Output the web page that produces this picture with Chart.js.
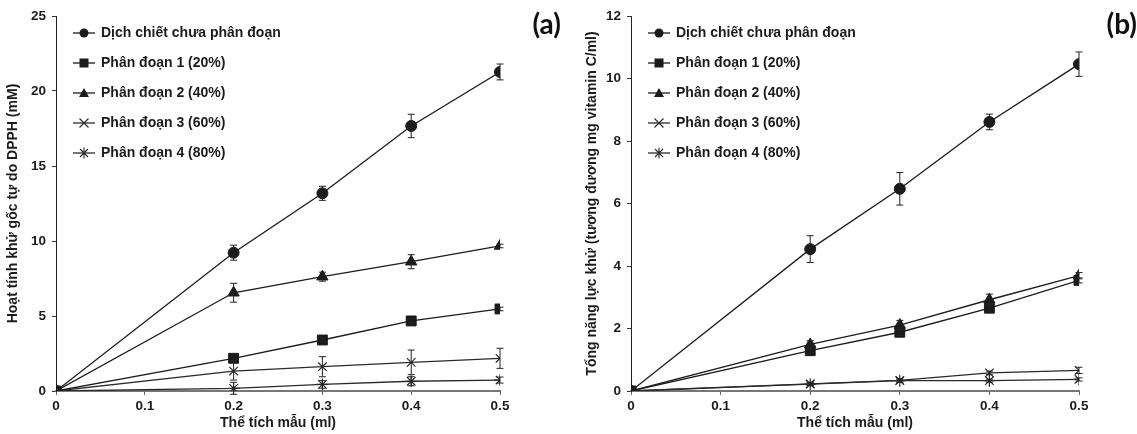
<!DOCTYPE html>
<html>
<head>
<meta charset="utf-8">
<script src="https://cdn.jsdelivr.net/npm/chart.js@4.4.1/dist/chart.umd.min.js"></script>
<style>
  html, body { margin: 0; padding: 0; background: #fff; }
  #wrapA { position: absolute; left: 0; top: 0; width: 570px; height: 434px; }
  #wrapB { position: absolute; left: 570px; top: 0; width: 567px; height: 434px; }
</style>
</head>
<body>
<div id="wrapA"><canvas id="chartA" width="570" height="434"></canvas></div>
<div id="wrapB"><canvas id="chartB" width="567" height="434"></canvas></div>
<script>
// ---------- DATA ----------
const volumes = [0, 0.2, 0.3, 0.4, 0.5];
const xTickLabels = ['0', '0.1', '0.2', '0.3', '0.4', '0.5'];
const seriesNames = [
  'Dịch chiết chưa phân đoạn',
  'Phân đoạn 1 (20%)',
  'Phân đoạn 2 (40%)',
  'Phân đoạn 3 (60%)',
  'Phân đoạn 4 (80%)'
];
const markerStyles = ['circle', 'rect', 'triangle', 'crossRot', 'star'];

// (a) DPPH radical scavenging activity (mM)
const dpphWhole = [0, 9.22, 13.18, 17.67, 21.27];
const dpphF1    = [0, 2.18, 3.40, 4.67, 5.47];
const dpphF2    = [0, 6.55, 7.62, 8.62, 9.67];
const dpphF3    = [0, 1.33, 1.62, 1.91, 2.18];
const dpphF4    = [0, 0.18, 0.44, 0.65, 0.73];
const dpphWholeErr = [0, 0.50, 0.47, 0.78, 0.53];
const dpphF1Err    = [0, 0.15, 0.12, 0.15, 0.12];
const dpphF2Err    = [0, 0.63, 0.30, 0.47, 0.12];
const dpphF3Err    = [0, 0.60, 0.67, 0.82, 0.67];
const dpphF4Err    = [0, 0.40, 0.25, 0.30, 0.20];
const yTicksA = [0, 5, 10, 15, 20, 25];

// (b) Total reducing power (mg vitamin C eq./ml)
const rpWhole = [0, 4.54, 6.47, 8.61, 10.46];
const rpF1    = [0, 1.29, 1.88, 2.65, 3.54];
const rpF2    = [0, 1.49, 2.11, 2.92, 3.69];
const rpF3    = [0, 0.23, 0.34, 0.58, 0.66];
const rpF4    = [0, 0.22, 0.33, 0.33, 0.37];
const rpWholeErr = [0, 0.43, 0.52, 0.25, 0.39];
const rpF1Err    = [0, 0.15, 0.10, 0.12, 0.08];
const rpF2Err    = [0, 0.12, 0.15, 0.18, 0.10];
const rpF3Err    = [0, 0.05, 0.05, 0.06, 0.10];
const rpF4Err    = [0, 0.05, 0.05, 0.05, 0.05];
const yTicksB = [0, 2, 4, 6, 8, 10, 12];

// ---------- STYLE ----------
const FONT = "'Liberation Sans', Arial, sans-serif";
const INK = '#1b1b1b';
const lineColors = ['#1b1b1b', '#1b1b1b', '#1b1b1b', '#2a2a2a', '#2a2a2a'];
const markerRadius = [5.5, 7, 6.5, 6, 6];
const TICK_SIZE = 13.5;
const TEXT_SIZE = 14;

function legendIcon(style, color) {
  const c = document.createElement('canvas');
  c.width = 22; c.height = 12;
  const g = c.getContext('2d');
  g.strokeStyle = color; g.fillStyle = color; g.lineWidth = 1.3;
  g.beginPath(); g.moveTo(0, 6); g.lineTo(22, 6); g.stroke();
  const cx = 11, cy = 6;
  g.beginPath();
  if (style === 'circle') { g.arc(cx, cy, 4.5, 0, Math.PI * 2); g.fill(); }
  else if (style === 'rect') { g.fillRect(cx - 4.5, cy - 4.5, 9, 9); }
  else if (style === 'triangle') { g.moveTo(cx, cy - 5); g.lineTo(cx + 5, cy + 4); g.lineTo(cx - 5, cy + 4); g.closePath(); g.fill(); }
  else if (style === 'crossRot') { g.lineWidth = 1.1; g.moveTo(cx - 4.5, cy - 4.5); g.lineTo(cx + 4.5, cy + 4.5); g.moveTo(cx + 4.5, cy - 4.5); g.lineTo(cx - 4.5, cy + 4.5); g.stroke(); }
  else if (style === 'star') { g.lineWidth = 1.1; g.moveTo(cx - 4, cy - 4); g.lineTo(cx + 4, cy + 4); g.moveTo(cx + 4, cy - 4); g.lineTo(cx - 4, cy + 4); g.moveTo(cx, cy - 5.5); g.lineTo(cx, cy + 5.5); g.stroke(); }
  return c;
}

function makeDatasets(seriesList, errList) {
  return seriesList.map((vals, i) => ({
    label: seriesNames[i],
    data: vals.map((v, j) => ({ x: volumes[j], y: v })),
    errorBars: errList[i],
    borderColor: lineColors[i],
    backgroundColor: lineColors[i],
    borderWidth: 1.3,
    pointStyle: markerStyles[i],
    pointRadius: markerRadius[i],
    pointBorderWidth: (i >= 3) ? 1.2 : 1,
    pointBackgroundColor: lineColors[i],
    pointBorderColor: lineColors[i],
    tension: 0,
    order: [1, 0, 2, 3, 4][i]
  }));
}

const errorBarPlugin = {
  id: 'errorBars',
  afterDatasetsDraw(chart) {
    const ctx = chart.ctx;
    const yScale = chart.scales.y;
    ctx.save();
    ctx.lineWidth = 1;
    ctx.strokeStyle = '#222';
    chart.data.datasets.forEach((ds, i) => {
      const meta = chart.getDatasetMeta(i);
      ds.data.forEach((pt, j) => {
        const e = ds.errorBars[j];
        if (!e) return;
        const x = meta.data[j].x;
        const y1 = yScale.getPixelForValue(pt.y + e);
        const y2 = yScale.getPixelForValue(pt.y - e);
        ctx.beginPath();
        ctx.moveTo(x, y1); ctx.lineTo(x, y2);
        ctx.moveTo(x - 3.5, y1); ctx.lineTo(x + 3.5, y1);
        ctx.moveTo(x - 3.5, y2); ctx.lineTo(x + 3.5, y2);
        ctx.stroke();
      });
    });
    ctx.restore();
  }
};

const panelLabelPlugin = {
  id: 'panelLabel',
  afterDraw(chart, args, opts) {
    const ctx = chart.ctx;
    ctx.save();
    ctx.font = "bold 28px Lato, 'Open Sans', sans-serif";
    ctx.fillStyle = '#111';
    ctx.textAlign = 'right';
    ctx.textBaseline = 'middle';
    ctx.fillText(opts.text, opts.x, opts.y);
    ctx.restore();
  }
};

const legendShiftPlugin = {
  id: 'legendShift',
  afterLayout(chart, args, opts) {
    if (chart.legend) {
      chart.legend.top += opts.dy; chart.legend.bottom += opts.dy;
      chart.legend.left += opts.dx; chart.legend.right += opts.dx;
    }
  }
};

function buildChart(canvasId, seriesList, errList, yTicks, yTitle, cfg) {
  const yMax = yTicks[yTicks.length - 1];
  const yStep = yTicks[1] - yTicks[0];
  return new Chart(document.getElementById(canvasId), {
    type: 'line',
    data: { datasets: makeDatasets(seriesList, errList) },
    plugins: [errorBarPlugin, panelLabelPlugin, legendShiftPlugin],
    options: {
      responsive: false,
      animation: false,
      layout: { padding: { left: 0, right: cfg.padRight, top: 16, bottom: 0 } },
      plugins: {
        tooltip: { enabled: false },
        title: { display: false },
        panelLabel: { text: cfg.panel, x: cfg.panelX, y: 25 },
        legendShift: { dy: 10, dx: 2 },
        legend: {
          position: 'chartArea',
          align: 'start',
          labels: {
            usePointStyle: true,
            pointStyleWidth: 20,
            padding: 16,
            color: INK,
            font: { family: FONT, size: TEXT_SIZE, weight: 'bold' },
            generateLabels(chart) {
              return chart.data.datasets.map((ds, i) => ({
                text: ds.label,
                pointStyle: legendIcon(markerStyles[i], lineColors[i]),
                fillStyle: lineColors[i],
                strokeStyle: lineColors[i],
                lineWidth: 0,
                hidden: false,
                datasetIndex: i,
                fontColor: INK
              }));
            }
          }
        }
      },
      scales: {
        x: {
          type: 'linear',
          min: 0,
          max: 0.5,
          offset: false,
          afterBuildTicks(scale) {
            scale.ticks = xTickLabels.map(t => ({ value: parseFloat(t) }));
          },
          afterFit(scale) { scale.height = 43; },
          ticks: {
            color: INK,
            padding: 3,
            maxRotation: 0,
            autoSkip: false,
            font: { family: FONT, size: TICK_SIZE, weight: 'bold' },
            callback(value, index) { return xTickLabels[index]; }
          },
          grid: { drawOnChartArea: false, drawTicks: true, tickLength: 4, color: '#666', tickWidth: 1 },
          border: { display: true, color: '#777', width: 2 },
          title: {
            display: true,
            text: 'Thể tích mẫu (ml)',
            color: INK,
            padding: { top: 0, bottom: 2 },
            font: { family: FONT, size: TEXT_SIZE, weight: 'bold' }
          }
        },
        y: {
          type: 'linear',
          min: 0,
          max: yMax,
          afterBuildTicks(scale) {
            scale.ticks = yTicks.map(v => ({ value: v }));
          },
          afterFit(scale) { scale.width = cfg.yWidth; },
          ticks: {
            color: INK,
            padding: 6,
            stepSize: yStep,
            font: { family: FONT, size: TICK_SIZE, weight: 'bold' },
            callback(value) { return String(value); }
          },
          grid: { drawOnChartArea: false, drawTicks: true, tickLength: 4, color: '#333', tickWidth: 1 },
          border: { display: true, color: '#222', width: 1 },
          title: {
            display: true,
            text: yTitle,
            color: INK,
            padding: { top: cfg.yTitlePad, bottom: 0 },
            font: { family: FONT, size: TEXT_SIZE, weight: 'bold' }
          }
        }
      }
    }
  });
}

buildChart('chartA',
  [dpphWhole, dpphF1, dpphF2, dpphF3, dpphF4],
  [dpphWholeErr, dpphF1Err, dpphF2Err, dpphF3Err, dpphF4Err],
  yTicksA,
  'Hoạt tính khử gốc tự do DPPH (mM)',
  { padRight: 70, yWidth: 56, yTitlePad: 4.5, panel: '(a)', panelX: 561 });

buildChart('chartB',
  [rpWhole, rpF1, rpF2, rpF3, rpF4],
  [rpWholeErr, rpF1Err, rpF2Err, rpF3Err, rpF4Err],
  yTicksB,
  'Tổng năng lực khử (tương đương mg vitamin C/ml)',
  { padRight: 58, yWidth: 61, yTitlePad: 13.5, panel: '(b)', panelX: 567 });
</script>
</body>
</html>
